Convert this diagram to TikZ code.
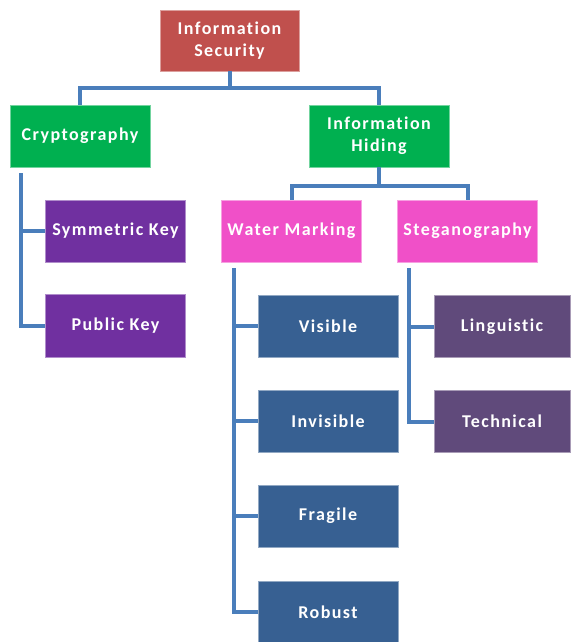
\documentclass[tikz,border=0pt]{standalone}
\usepackage{fontspec}
\setmainfont{Carlito}[LetterSpace=8,Ligatures={NoCommon}]

\begin{document}
\begin{tikzpicture}[x=1pt,y=-1pt]
  % Boxes: root (red), branches (green), leaves by branch.
  \definecolor{root}{HTML}{C0504D}
  \definecolor{branch}{HTML}{00B050}
  \definecolor{cryptleaf}{HTML}{7030A0}
  \definecolor{hideleaf}{HTML}{F050C8}
  \definecolor{markleaf}{HTML}{376092}
  \definecolor{stegleaf}{HTML}{604A7B}
  \definecolor{wire}{HTML}{4A7EBB}
  \useasboundingbox (0,0) rectangle (570,642);

  \tikzset{box/.style={fill=#1, draw=#1!55!white, line width=.8pt,
      minimum width=140pt, minimum height=62pt, inner sep=0pt,
      align=center, text=white, font=\bfseries\fontsize{18}{22}\selectfont},
    link/.style={wire, line width=4pt}}

  \node[box=root,minimum width=139pt,minimum height=61pt] (sec) at (229.5,40.5) {Information\\Security};
  \node[box=branch] (crypt) at (80,136) {Cryptography};
  \node[box=branch] (hide) at (379,136) {Information\\Hiding};
  \node[box=cryptleaf] (sym) at (115.5,231) {Symmetric Key};
  \node[box=cryptleaf,minimum height=63pt] (pub) at (115.5,326) {Public Key};
  \node[box=hideleaf] (water) at (291.5,231) {Water Marking};
  \node[box=hideleaf] (stego) at (467.5,231) {Steganography};
  \node[box=markleaf] (vis) at (328,326) {Visible};
  \node[box=markleaf] (invis) at (328,421) {Invisible};
  \node[box=markleaf] (frag) at (328,516) {Fragile};
  \node[box=markleaf] (rob) at (328,612) {Robust};
  \node[box=stegleaf,minimum width=136pt] (ling) at (502,326.5) {Linguistic};
  \node[box=stegleaf,minimum width=136pt] (tech) at (502,421.5) {Technical};

  % Top two levels hang from a bar.
  \draw[link] (sec.south) -- ++(0,17) -| (crypt.north);
  \draw[link] (sec.south) -- ++(0,17) -| (hide.north);
  \draw[link] (hide.south) -- ++(0,19) -| (water.north);
  \draw[link] (hide.south) -- ++(0,19) -| (stego.north);

  % Leaves hang off a rail at the left.
  \coordinate (cryptrail) at (21,173);
  \coordinate (markrail) at (234,268);
  \coordinate (stegrail) at (409,268);
  \draw[link] (cryptrail) |- (sym.west);
  \draw[link] (cryptrail) |- (pub.west);
  \foreach \leaf in {vis,invis,frag,rob}
    \draw[link] (markrail) |- (\leaf.west);
  \draw[link] (stegrail) |- (ling.west);
  \draw[link] (stegrail) |- (tech.west);
\end{tikzpicture}
\end{document}
